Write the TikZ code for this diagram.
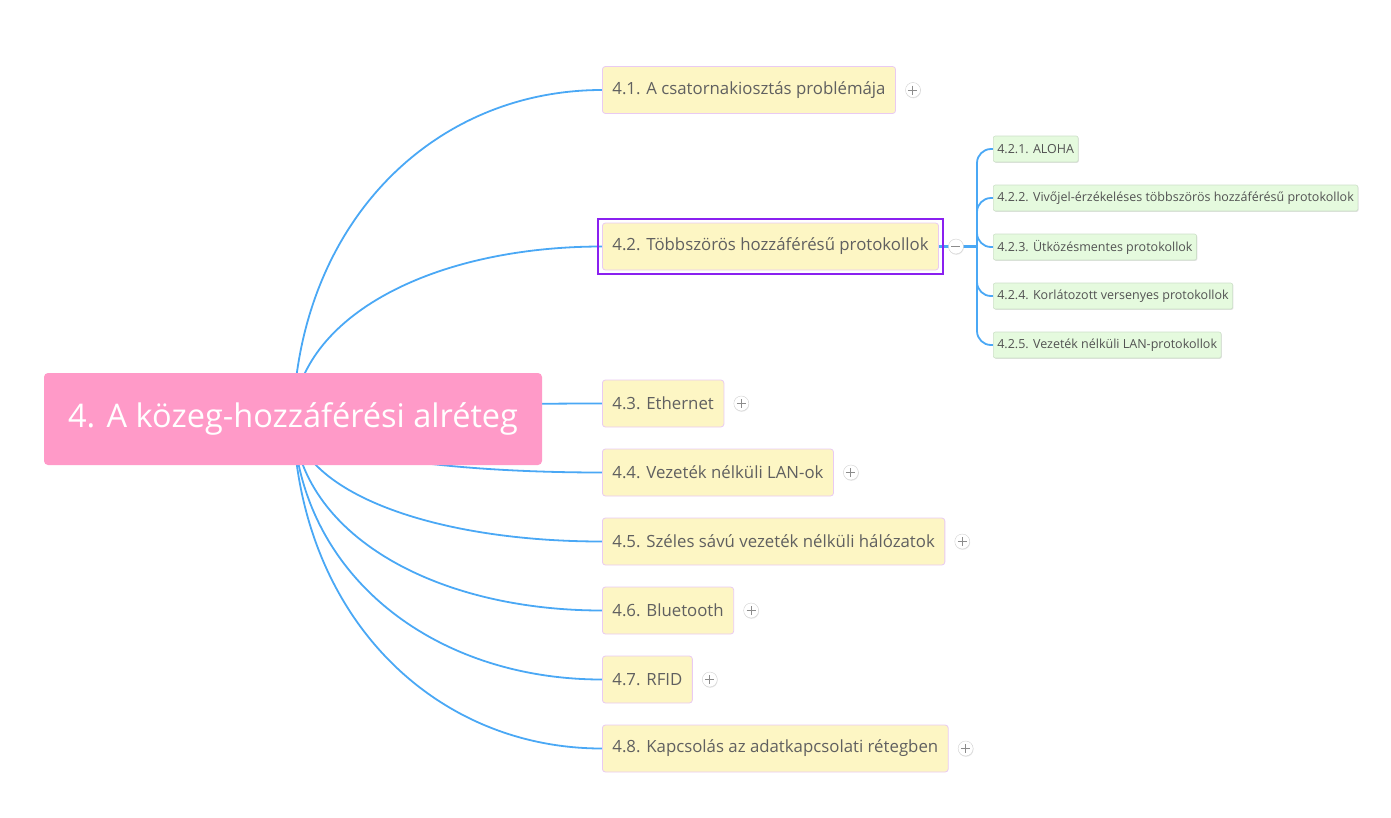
\documentclass[tikz,border=0pt]{standalone}
\usepackage{fontspec}
\setmainfont{Open Sans}
\usepackage{tikz}
\usetikzlibrary{calc,backgrounds,shadows,fit}
\definecolor{rootpink}{RGB}{255,154,200}
\definecolor{topicyellow}{RGB}{253,246,196}
\definecolor{topicedge}{RGB}{233,202,242}
\definecolor{subgreen}{RGB}{229,250,222}
\definecolor{subedge}{RGB}{205,224,200}
\definecolor{linkblue}{RGB}{74,168,245}
\definecolor{selpurple}{RGB}{138,32,240}
\definecolor{textgrey}{RGB}{96,96,96}

\tikzset{
  root/.style={fill=rootpink, rounded corners=4pt, text=white, minimum width=498pt,
    minimum height=92pt, font=\fontsize{32.5}{38}\selectfont},
  topic/.style={draw=topicedge, fill=topicyellow, rounded corners=3pt, line width=0.8pt,
    text=textgrey, font=\fontsize{16.8}{20}\selectfont, inner xsep=10pt,
    minimum height=47pt, anchor=west},
  subtopic/.style={draw=subedge, fill=subgreen, rounded corners=2pt, line width=0.6pt,
    text=textgrey!85!black, font=\fontsize{12.5}{15}\selectfont, inner xsep=4pt,
    minimum height=26pt, anchor=west,
    drop shadow={shadow xshift=0.8pt, shadow yshift=-0.8pt, opacity=0.25}},
  link/.style={draw=linkblue, line width=1.8pt},
  button/.style={circle, draw=black!18, fill=white, minimum size=15pt, inner sep=0pt,
    drop shadow={shadow xshift=0.4pt, shadow yshift=-0.8pt, opacity=0.2}},
  selframe/.style={draw=selpurple, line width=2pt, inner sep=4pt},
}

\begin{document}
\begin{tikzpicture}[x=1pt, y=-1pt]
  \useasboundingbox (0,0) rectangle (1391,817);
  % central topic
  \node[root] (root) at (293,419) {4. A közeg-hozzáférési alréteg};
  % main topics with their expand buttons
  \foreach \y/\txt [count=\i] in {
    90/4.1. A csatornakiosztás problémája,
    246.5/4.2. Többszörös hozzáférésű protokollok,
    403.5/4.3. Ethernet,
    472.5/4.4. Vezeték nélküli LAN-ok,
    541.5/4.5. Széles sávú vezeték nélküli hálózatok,
    610.5/4.6. Bluetooth,
    679.5/4.7. RFID,
    748.5/4.8. Kapcsolás az adatkapcsolati rétegben} {
      \node[topic] (t\i) at (602,\y) {\txt};
      \ifnum\i=2
        % selected topic, opened
        \node[selframe, fit=(t2)] (sel) {};
      \else
        \node[button] (b\i) at ($(t\i.east)+(17,0)$) {};
        \draw[black!45, line width=1pt] (b\i.center) +(-4.5,0) -- +(4.5,0)
          (b\i.center) +(0,-4.5) -- +(0,4.5);
      \fi
    }
  % subtopics of 4.2
  \coordinate (j) at (977,246.5);
  \foreach \y/\txt [count=\k] in {
    149/4.2.1. ALOHA,
    198/4.2.2. Vivőjel-érzékeléses többszörös hozzáférésű protokollok,
    247/4.2.3. Ütközésmentes protokollok,
    296/4.2.4. Korlátozott versenyes protokollok,
    345/4.2.5. Vezeték nélküli LAN-protokollok} {
      \node[subtopic] (s\k) at (993,\y) {\txt};
    }
  % connectors
  \begin{scope}[on background layer]
    \foreach \i in {1,...,8} {
      \draw[link] (root.center) .. controls ($(root.center)!0.6!(root.center |- t\i.west)+(6,0)$)
        and ($(t\i.west)+(-168,0)$) .. (t\i.west);
    }
    \draw[link, line width=2.5pt] (t2.east) -- (j);
    \foreach \k in {1,...,5} {
      \draw[link, rounded corners=14pt] (j) |- (s\k.west);
    }
  \end{scope}
  % collapse button of 4.2
  \node[button] (b2) at ($(t2.east)+(17,0)$) {};
  \draw[black!45, line width=1pt] (b2.center) +(-4.5,0) -- +(4.5,0);
\end{tikzpicture}
\end{document}
